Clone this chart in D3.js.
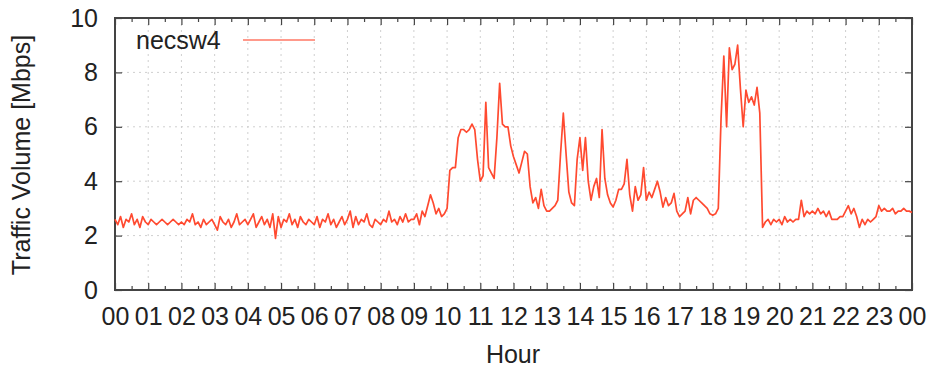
<!DOCTYPE html>
<html lang="en">
<head>
<meta charset="UTF-8">
<title>necsw4 traffic</title>
<script src="https://d3js.org/d3.v7.min.js"></script>
<style>
    body { margin: 0; background: #fff; }
    svg text { font-family: "Liberation Sans", Arial, sans-serif; fill: #222; }
    .grid line { stroke: #cfcfcf; stroke-width: 1; stroke-dasharray: 2,4; }
    .axis path { display: none; }
    .axis line { stroke: #444; stroke-width: 1.2; }
</style>
</head>
<body>
<svg id="chart" width="928" height="368"></svg>
<script>
// hour tick labels
const hourLabels = ["00","01","02","03","04","05","06","07","08","09","10","11",
                    "12","13","14","15","16","17","18","19","20","21","22","23","00"];
const yTicks = [0, 2, 4, 6, 8, 10];
const seriesName = "necsw4";

// traffic in Mbps, one row per hour, 5 minute samples
const h00 = [2.6,2.4,2.7,2.3,2.6,2.5,2.8,2.4,2.6,2.3,2.7,2.5];
const h01 = [2.4,2.6,2.5,2.4,2.5,2.6,2.5,2.4,2.5,2.6,2.5,2.4];
const h02 = [2.5,2.4,2.6,2.5,2.8,2.4,2.5,2.3,2.6,2.4,2.5,2.6];
const h03 = [2.4,2.2,2.7,2.5,2.4,2.6,2.3,2.5,2.8,2.4,2.5,2.6];
const h04 = [2.4,2.6,2.8,2.3,2.5,2.7,2.4,2.6,2.3,2.8,1.9,2.7];
const h05 = [2.3,2.6,2.5,2.8,2.4,2.6,2.3,2.7,2.5,2.4,2.6,2.5];
const h06 = [2.4,2.7,2.3,2.6,2.5,2.8,2.4,2.6,2.3,2.5,2.7,2.4];
const h07 = [2.6,2.9,2.3,2.7,2.4,2.6,2.5,2.8,2.4,2.3,2.6,2.5];
const h08 = [2.4,2.6,2.5,2.9,2.5,2.6,2.4,2.7,2.5,2.8,2.5,2.6];
const h09 = [2.6,2.8,2.4,2.9,2.7,3.1,3.5,3.2,2.8,3.0,2.7,2.8];
const h10 = [3.0,4.4,4.5,4.5,5.6,5.9,5.9,5.8,5.9,6.1,5.9,4.8];
const h11 = [4.0,4.2,6.9,4.5,4.3,4.1,5.6,7.6,6.1,6.0,6.0,5.3];
const h12 = [4.9,4.6,4.3,4.7,5.1,5.0,3.8,3.2,3.4,3.0,3.7,3.1];
const h13 = [2.9,2.9,3.0,3.1,3.3,5.0,6.5,5.0,3.6,3.2,3.1,4.8];
const h14 = [5.6,4.4,5.6,4.0,3.3,3.8,4.1,3.4,5.9,4.1,3.5,3.2];
const h15 = [3.05,3.3,3.7,3.7,3.9,4.8,3.5,2.9,3.8,3.3,3.5,4.5];
const h16 = [3.3,3.6,3.4,3.7,4.0,3.6,3.05,3.4,3.1,3.2,3.55,2.9];
const h17 = [2.7,2.8,2.9,3.4,2.8,3.3,3.4,3.3,3.2,3.1,3.0,2.8];
const h18 = [2.75,2.8,3.0,6.3,8.6,6.0,8.9,8.1,8.3,9.0,7.4,6.0];
const h19 = [7.35,6.9,7.1,6.8,7.45,6.5,2.3,2.5,2.6,2.4,2.6,2.5];
const h20 = [2.6,2.4,2.7,2.5,2.6,2.5,2.6,2.6,3.3,2.7,2.9,2.8];
const h21 = [2.9,2.8,3.0,2.8,2.9,2.7,2.9,2.6,2.6,2.6,2.7,2.7];
const h22 = [2.9,3.1,2.8,3.0,2.7,2.3,2.6,2.4,2.6,2.5,2.6,2.7];
const h23 = [3.1,2.9,3.0,2.9,2.9,3.0,2.8,2.9,2.9,3.0,2.9,2.9];
const h24 = [2.85];

const traffic = [h00,h01,h02,h03,h04,h05,h06,h07,h08,h09,h10,h11,
                 h12,h13,h14,h15,h16,h17,h18,h19,h20,h21,h22,h23,h24]
    .flatMap((row, h) => row.map((v, i) => ({ hour: h + i / 12, value: v })));

const plotLeft = 115, plotRight = 912, plotTop = 18, plotBottom = 290;
const lineColor = "#ff4a30";

const svg = d3.select("#chart");

const x = d3.scaleLinear().domain([0, 24]).range([plotLeft, plotRight]);
const y = d3.scaleLinear().domain([0, 10]).range([plotBottom, plotTop]);

const hours = d3.range(0, 25);
const halfHours = d3.range(0.5, 24, 1);

// grid
const grid = svg.append("g").attr("class", "grid");
grid.selectAll("line.v")
    .data(hours.slice(1, 24))
    .join("line")
    .attr("class", "v")
    .attr("x1", d => x(d)).attr("x2", d => x(d))
    .attr("y1", plotTop).attr("y2", plotBottom);
grid.selectAll("line.h")
    .data(yTicks.slice(1, 5))
    .join("line")
    .attr("class", "h")
    .attr("x1", plotLeft).attr("x2", plotRight)
    .attr("y1", d => y(d)).attr("y2", d => y(d));

// x axis, ticks point inward
svg.append("g")
    .attr("class", "axis")
    .attr("transform", `translate(0,${plotBottom})`)
    .call(d3.axisBottom(x).tickValues(hours).tickSizeInner(-7).tickSizeOuter(0)
        .tickPadding(17).tickFormat((d, i) => hourLabels[i]))
    .selectAll("text").style("font-size", "25px");
svg.append("g")
    .attr("class", "axis")
    .attr("transform", `translate(0,${plotBottom})`)
    .call(d3.axisBottom(x).tickValues(halfHours).tickSizeInner(-4).tickSizeOuter(0).tickFormat(""));
svg.append("g")
    .attr("class", "axis")
    .attr("transform", `translate(0,${plotTop})`)
    .call(d3.axisTop(x).tickValues(hours).tickSizeInner(-7).tickSizeOuter(0).tickFormat(""));
svg.append("g")
    .attr("class", "axis")
    .attr("transform", `translate(0,${plotTop})`)
    .call(d3.axisTop(x).tickValues(halfHours).tickSizeInner(-4).tickSizeOuter(0).tickFormat(""));

// y axis
svg.append("g")
    .attr("class", "axis")
    .attr("transform", `translate(${plotLeft},0)`)
    .call(d3.axisLeft(y).tickValues(yTicks).tickSizeInner(-7).tickSizeOuter(0).tickPadding(17))
    .selectAll("text").style("font-size", "25px");
svg.append("g")
    .attr("class", "axis")
    .attr("transform", `translate(${plotRight},0)`)
    .call(d3.axisRight(y).tickValues(yTicks).tickSizeInner(-7).tickSizeOuter(0).tickFormat(""));

// frame
svg.append("rect")
    .attr("x", plotLeft).attr("y", plotTop)
    .attr("width", plotRight - plotLeft).attr("height", plotBottom - plotTop)
    .attr("fill", "none")
    .attr("stroke", "#444")
    .attr("stroke-width", 2);

// series
const line = d3.line().x(d => x(d.hour)).y(d => y(d.value));
svg.append("path")
    .datum(traffic)
    .attr("fill", "none")
    .attr("stroke", lineColor)
    .attr("stroke-width", 1.7)
    .attr("stroke-linejoin", "round")
    .attr("d", line);

// legend
svg.append("text")
    .attr("x", 136).attr("y", 49)
    .style("font-size", "25px")
    .text(seriesName);
svg.append("line")
    .attr("x1", 243).attr("x2", 315)
    .attr("y1", 40).attr("y2", 40)
    .attr("stroke", lineColor)
    .attr("stroke-opacity", 0.75)
    .attr("stroke-width", 1.6);

// axis titles
svg.append("text")
    .attr("x", (plotLeft + plotRight) / 2 - 0.5).attr("y", 363)
    .attr("text-anchor", "middle")
    .style("font-size", "25px")
    .text("Hour");
svg.append("text")
    .attr("transform", "translate(30,155) rotate(-90)")
    .attr("text-anchor", "middle")
    .style("font-size", "25px")
    .text("Traffic Volume [Mbps]");
</script>
</body>
</html>
